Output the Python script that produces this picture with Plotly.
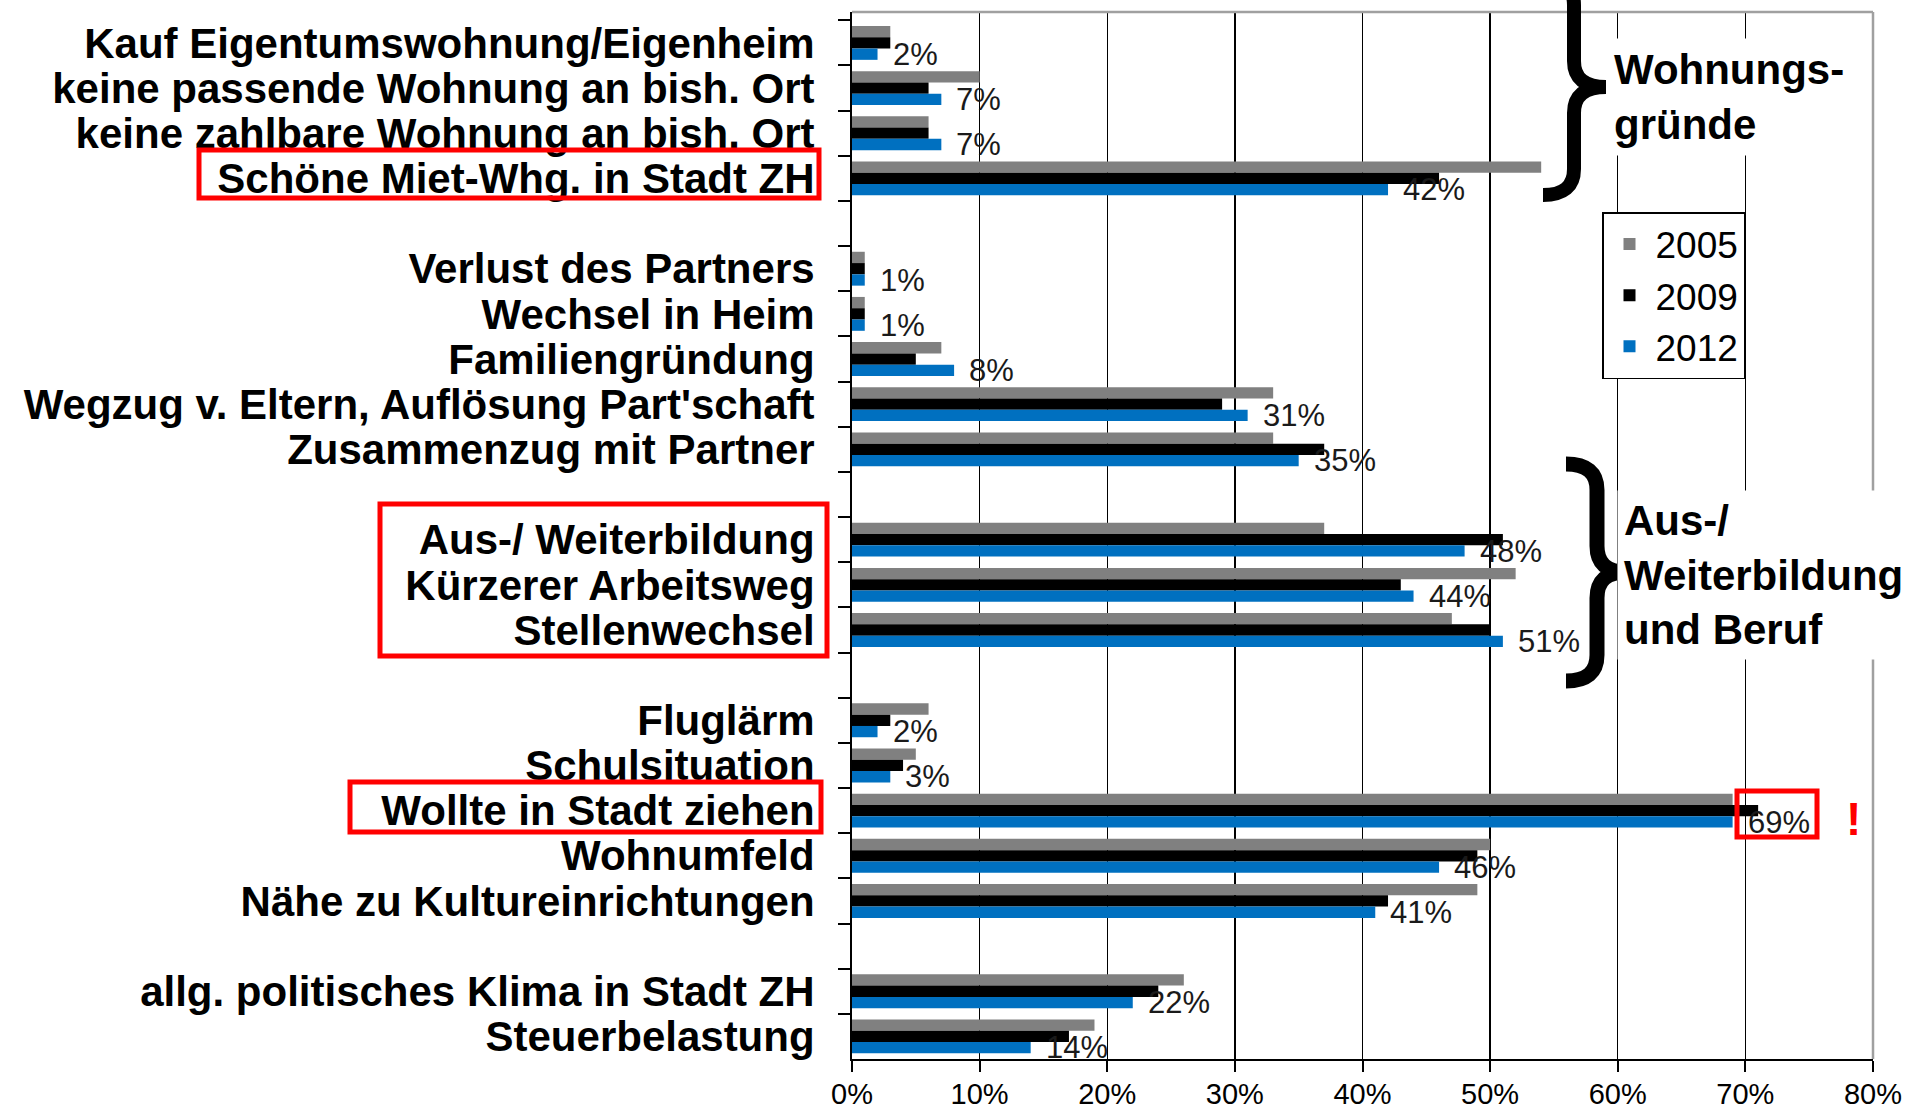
import plotly.graph_objects as go

# ---------------- data ----------------
categories = [
    "Kauf Eigentumswohnung/Eigenheim",
    "keine passende Wohnung an bish. Ort",
    "keine zahlbare Wohnung an bish. Ort",
    "Schöne Miet-Whg. in Stadt ZH",
    " ",
    "Verlust des Partners",
    "Wechsel in Heim",
    "Familiengründung",
    "Wegzug v. Eltern, Auflösung Part'schaft",
    "Zusammenzug mit Partner",
    "  ",
    "Aus-/ Weiterbildung",
    "Kürzerer Arbeitsweg",
    "Stellenwechsel",
    "   ",
    "Fluglärm",
    "Schulsituation",
    "Wollte in Stadt ziehen",
    "Wohnumfeld",
    "Nähe zu Kultureinrichtungen",
    "    ",
    "allg. politisches Klima in Stadt ZH",
    "Steuerbelastung",
]
v2005 = [3, 10, 6, 54, None, 1, 1, 7, 33, 33, None, 37, 52, 47, None, 6, 5, 69, 50, 49, None, 26, 19]
v2009 = [3, 6, 6, 46, None, 1, 1, 5, 29, 37, None, 51, 43, 50, None, 3, 4, 71, 49, 42, None, 24, 17]
v2012 = [2, 7, 7, 42, None, 1, 1, 8, 31, 35, None, 48, 44, 51, None, 2, 3, 69, 46, 41, None, 22, 14]
series_names = ["2005", "2009", "2012"]
x_ticks = [0, 10, 20, 30, 40, 50, 60, 70, 80]

# ---------------- layout geometry (pixels) ----------------
FIG_W, FIG_H = 1927, 1112
L, R, T, B = 852, 1873, 12, 1059


def px(x):
    return (x - L) / (R - L)


def py(y):
    return 1 - (y - T) / (B - T)


FONT = "Liberation Sans, Arial, sans-serif"
colors = ["#808080", "#000000", "#0070C0"]

fig = go.Figure()
for name, vals, col in zip(series_names, [v2005, v2009, v2012], colors):
    fig.add_trace(go.Bar(
        x=vals, y=categories, orientation="h", name=name,
        marker=dict(color=col, line=dict(width=0)),
        legendgroup=name, hoverinfo="skip",
    ))

annotations = []
# data labels for 2012
for c, v in zip(categories, v2012):
    if v is None:
        continue
    annotations.append(dict(
        x=v, y=c, xref="x", yref="y", text=f"{v}%", showarrow=False,
        xanchor="left", yanchor="middle", xshift=13, yshift=-11.4,
        font=dict(family=FONT, size=31, color="#1a1a1a"),
    ))

# group captions
annotations.append(dict(
    x=px(1606), y=py(97), xref="paper", yref="paper", xanchor="left", yanchor="middle",
    text="Wohnungs-<br>gründe", showarrow=False, align="left",
    font=dict(family=FONT, size=42, color="black", weight="bold"),
    bgcolor="white", borderpad=7,
))
annotations.append(dict(
    x=px(1617), y=py(575), xref="paper", yref="paper", xanchor="left", yanchor="middle",
    text="Aus-/<br>Weiterbildung<br>und Beruf", showarrow=False, align="left",
    font=dict(family=FONT, size=42, color="black", weight="bold"),
    bgcolor="white", borderpad=6,
))
annotations.append(dict(
    x=px(1853), y=py(819), xref="paper", yref="paper", xanchor="center", yanchor="middle",
    text="!", showarrow=False,
    font=dict(family=FONT, size=46, color="#FF0000", weight="bold"),
))


def brace(xl, xs, xt, y0, ym, y1, r):
    X = lambda v: f"{px(v):.5f}"
    Y = lambda v: f"{py(v):.5f}"
    return (f"M{X(xl)},{Y(y0)} Q{X(xs)},{Y(y0)} {X(xs)},{Y(y0 + r)} "
            f"L{X(xs)},{Y(ym - r)} Q{X(xs)},{Y(ym)} {X(xt)},{Y(ym)} "
            f"Q{X(xs)},{Y(ym)} {X(xs)},{Y(ym + r)} "
            f"L{X(xs)},{Y(y1 - r)} Q{X(xs)},{Y(y1)} {X(xl)},{Y(y1)}")


shapes = [
    # plot frame top/right (gray)
    dict(type="line", xref="paper", yref="paper", x0=0, x1=1, y0=1, y1=1,
         line=dict(color="#A0A0A0", width=2.5), layer="above"),
    dict(type="line", xref="paper", yref="paper", x0=1, x1=1, y0=0, y1=1,
         line=dict(color="#A0A0A0", width=2.5), layer="above"),
    # braces
    dict(type="path", xref="paper", yref="paper",
         path=brace(1543, 1574, 1606, -21, 87, 195, 26),
         line=dict(color="black", width=14), layer="above"),
    dict(type="path", xref="paper", yref="paper",
         path=brace(1566, 1597, 1626, 464, 572, 681, 26),
         line=dict(color="black", width=15), layer="above"),
]

# red highlight boxes
for (x0, y0, x1, y1) in [(199, 150, 819, 198), (380, 504, 827, 656),
                         (350, 782, 821, 832), (1737, 791, 1817, 837)]:
    shapes.append(dict(type="rect", xref="paper", yref="paper",
                       x0=px(x0), x1=px(x1), y0=py(y1), y1=py(y0),
                       line=dict(color="#FF0000", width=5), fillcolor="rgba(0,0,0,0)",
                       layer="above"))

fig.update_layout(
    width=FIG_W, height=FIG_H,
    margin=dict(l=L, r=FIG_W - R, t=T, b=FIG_H - B, autoexpand=False),
    paper_bgcolor="white", plot_bgcolor="white",
    barmode="group", bargap=0.25, bargroupgap=0,
    font=dict(family=FONT, color="black"),
    showlegend=True,
    legend=dict(
        x=px(1602), y=py(212), xanchor="left", yanchor="top",
        bgcolor="white", bordercolor="black", borderwidth=1.5,
        font=dict(family=FONT, size=37, color="black"),
        tracegroupgap=5, traceorder="normal", itemclick=False,
        itemwidth=42,
    ),
    xaxis=dict(
        range=[0, 80], tickvals=x_ticks, ticktext=[f"{t}%" for t in x_ticks],
        showgrid=True, gridcolor="#000000", gridwidth=1.3, zeroline=False,
        showline=True, linecolor="black", linewidth=2,
        ticks="outside", ticklen=11, tickwidth=2, tickcolor="black",
        ticklabelstandoff=-3,
        tickfont=dict(family=FONT, size=29, color="black"),
        automargin=False, fixedrange=True,
    ),
    yaxis=dict(
        categoryorder="array", categoryarray=categories, autorange="reversed",
        tickmode="linear", tick0=0, dtick=1,
        showgrid=False, zeroline=False,
        showline=True, linecolor="black", linewidth=2,
        ticks="outside", ticklen=12, tickwidth=2, tickcolor="black",
        tickson="boundaries", ticklabelstandoff=27,
        tickfont=dict(family=FONT, size=42, color="black", weight="bold"),
        automargin=False, fixedrange=True,
    ),
    annotations=annotations,
    shapes=shapes,
)

fig.write_html(
    "out.html",
    config={"displayModeBar": False, "staticPlot": True},
    post_script="document.body.style.margin='0';document.body.style.overflow='hidden';",
)
